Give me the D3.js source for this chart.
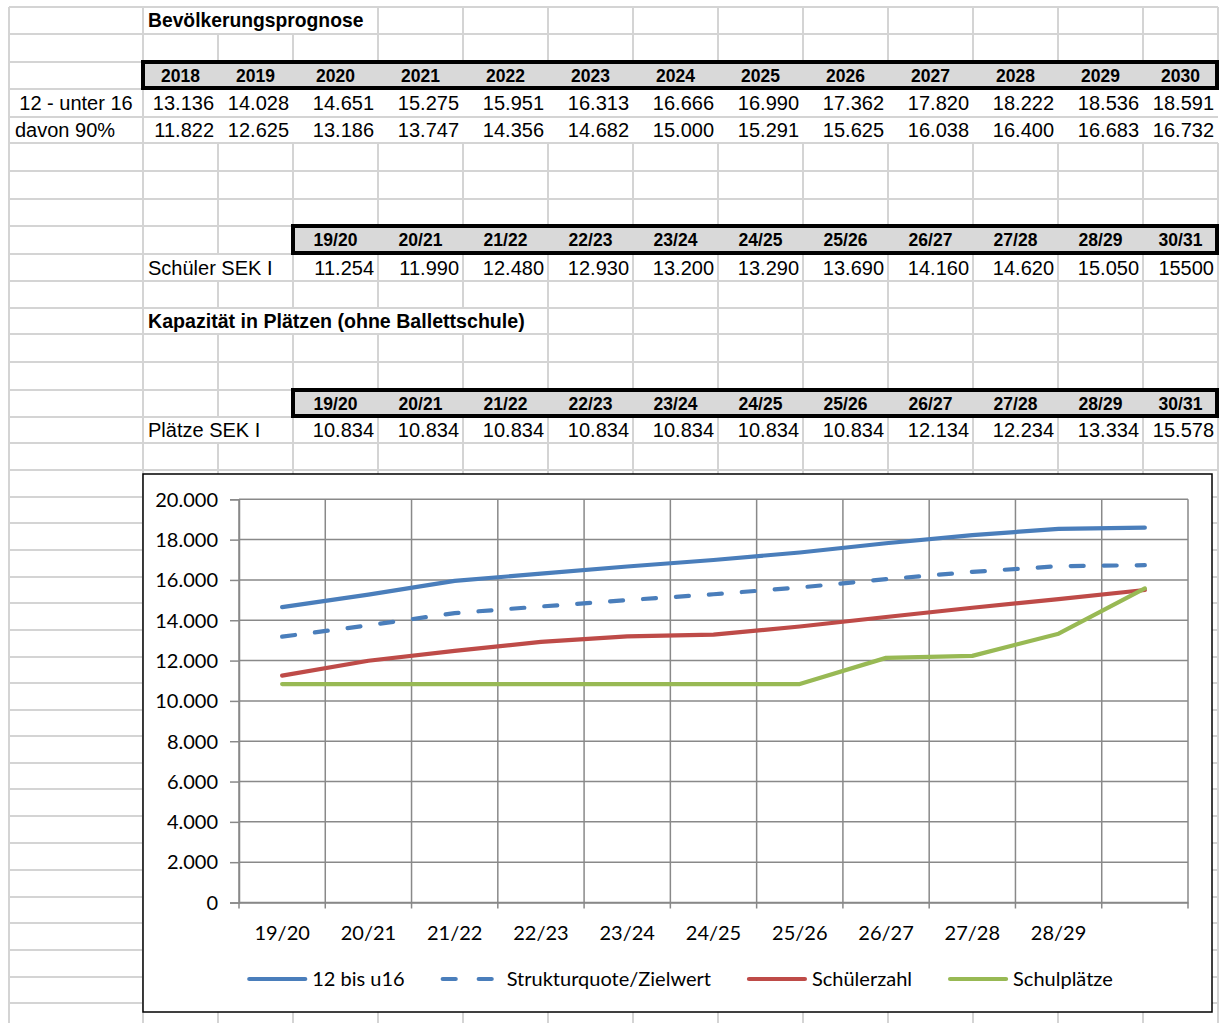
<!DOCTYPE html>
<html><head><meta charset="utf-8">
<script src="https://cdn.jsdelivr.net/npm/d3@7"></script>
<style>body{margin:0;background:#fff}svg{display:block}</style>
</head><body>
<svg id="c" width="1220" height="1023"></svg>
<script>
// ---------- data ----------
const years = ["2018","2019","2020","2021","2022","2023","2024","2025","2026","2027","2028","2029","2030"];
const unter16 = [13136,14028,14651,15275,15951,16313,16666,16990,17362,17820,18222,18536,18591];
const davon90 = [11822,12625,13186,13747,14356,14682,15000,15291,15625,16038,16400,16683,16732];
const schuljahre = ["19/20","20/21","21/22","22/23","23/24","24/25","25/26","26/27","27/28","28/29","30/31"];
const schueler = [11254,11990,12480,12930,13200,13290,13690,14160,14620,15050,15500];
const schuelerPlainCells = [10];           // cell shown without thousands separator
const plaetze = [10834,10834,10834,10834,10834,10834,10834,12134,12234,13334,15578];
const xTickLabels = ["19/20","20/21","21/22","22/23","23/24","24/25","25/26","26/27","27/28","28/29",""];
const yTicks = [0,2000,4000,6000,8000,10000,12000,14000,16000,18000,20000];
const seriesNames = ["12 bis u16","Strukturquote/Zielwert","Schülerzahl","Schulplätze"];

// ---------- layout ----------
const colX = [9,143,218,293,378,463,548,633,718,803,888,973,1058,1143,1218];
const rowY = [7,34,62,89,117,143,171,199,226,254,281,308,334,362,390,417,443,470,497,523,550,577,603,630,657,683,710,736,763,789,816,843,870,897,923,950,977,1003,1030];

const de = d3.formatLocale({decimal:",",thousands:".",grouping:[3],currency:["","€"]});
const fmt = de.format(",d");

const svg = d3.select("#c");
svg.append("rect").attr("width",1220).attr("height",1023).attr("fill","#fff");

// ---------- spreadsheet grid ----------
const hidden = {0:[218,293],3:"data",4:"data",9:[218],11:[218,293,378,463],15:[218]};
const grid = svg.append("g").attr("stroke","#d4d4d4").attr("stroke-width",2);
rowY.slice(0,-1).forEach(y=>{
  grid.append("line").attr("x1",colX[0]).attr("x2",colX[colX.length-1]).attr("y1",y).attr("y2",y);
});
for(let r=0;r<rowY.length-1;r++){
  colX.forEach(x=>{
    const h = hidden[r];
    if(h==="data" && x>143) return;
    if(Array.isArray(h) && h.includes(x)) return;
    grid.append("line").attr("x1",x).attr("x2",x).attr("y1",rowY[r]).attr("y2",Math.min(rowY[r+1],1023));
  });
}

// header boxes
function box(x0,x1,r){
  svg.append("rect").attr("x",x0).attr("y",rowY[r]).attr("width",x1-x0).attr("height",rowY[r+1]-rowY[r]-1)
    .attr("fill","#d9d9d9").attr("stroke","#000").attr("stroke-width",4);
}
box(143,1217,2); box(293,1217,8); box(293,1217,14);

const T = svg.append("g").attr("font-family","'Liberation Sans', Arial, sans-serif").attr("fill","#000");
function txt(s,x,r,anchor,opts={}){
  const y = (rowY[r]+rowY[r+1])/2;
  T.append("text").attr("x",x).attr("y",y).attr("dy","0.36em")
    .attr("text-anchor",anchor).attr("font-size",opts.size||20)
    .attr("font-weight",opts.bold?"bold":null).text(s);
}
const mid = i=>(colX[i]+colX[i+1])/2;
const right = i=>colX[i+1]-4;

txt("Bevölkerungsprognose",148,0,"start",{bold:true,size:19.3});
years.forEach((yv,i)=>txt(yv,mid(i+1),2,"middle",{bold:true,size:17.5}));
txt("12 - unter 16",mid(0),3,"middle");
unter16.forEach((v,i)=>txt(fmt(v),right(i+1),3,"end"));
txt("davon 90%",15,4,"start");
davon90.forEach((v,i)=>txt(fmt(v),right(i+1),4,"end"));

schuljahre.forEach((s,i)=>txt(s,mid(i+3),8,"middle",{bold:true,size:17.5}));
txt("Schüler SEK I",148,9,"start");
schueler.forEach((v,i)=>txt(schuelerPlainCells.includes(i)?String(v):fmt(v),right(i+3),9,"end"));
txt("Kapazität in Plätzen (ohne Ballettschule)",148,11,"start",{bold:true,size:19.6});
schuljahre.forEach((s,i)=>txt(s,mid(i+3),14,"middle",{bold:true,size:17.5}));
txt("Plätze SEK I",148,15,"start");
plaetze.forEach((v,i)=>txt(fmt(v),right(i+3),15,"end"));

// ---------- chart ----------
const chart = svg.append("g");
chart.append("rect").attr("x",143).attr("y",474).attr("width",1069).attr("height",538)
  .attr("fill","#fff").attr("stroke","#000").attr("stroke-width",1.5);

const x = d3.scaleBand().domain(d3.range(schuljahre.length)).range([239,1188]).padding(0);
const y = d3.scaleLinear().domain([0,20000]).range([902.5,499.3]);
const gridC = "#898989";

// horizontal gridlines
chart.append("g").selectAll("line").data(yTicks).join("line")
  .attr("x1",239).attr("x2",1188).attr("y1",d=>y(d)).attr("y2",d=>y(d))
  .attr("stroke",gridC).attr("stroke-width",1.5);
// vertical gridlines at category boundaries
const bounds = d3.range(schuljahre.length+1).map(i=> i<schuljahre.length ? x(i) : x(i-1)+x.bandwidth());
chart.append("g").selectAll("line").data(bounds).join("line")
  .attr("x1",d=>d).attr("x2",d=>d).attr("y1",y(20000)).attr("y2",y(0)+6)
  .attr("stroke",gridC).attr("stroke-width",1.5);

const fontC = "Lato, 'Open Sans', sans-serif";
const fsC = 20;
const yAxis = chart.append("g").attr("transform","translate(239,0)")
  .call(d3.axisLeft(y).tickValues(yTicks).tickSize(9).tickPadding(12).tickFormat(fmt));
yAxis.select(".domain").attr("stroke",gridC).attr("stroke-width",1.5);
yAxis.selectAll(".tick line").attr("stroke",gridC).attr("stroke-width",1.5);
yAxis.selectAll("text").attr("font-family",fontC).attr("font-size",fsC).attr("fill","#000").attr("dy","0.34em");

const xAxis = chart.append("g").attr("transform","translate(0,902.5)")
  .call(d3.axisBottom(x).tickSize(0).tickPadding(0).tickFormat(i=>xTickLabels[i]));
xAxis.select(".domain").attr("stroke",gridC).attr("stroke-width",1.5);
xAxis.selectAll("text").attr("font-family",fontC).attr("font-size",fsC).attr("fill","#000")
  .attr("y",31).attr("dy","0.34em");

const series = [
  {vals: unter16.slice(2), color:"#4a7ebb", dash:null},
  {vals: davon90.slice(2), color:"#4a7ebb", dash:"13,20"},
  {vals: schueler, color:"#be4b48", dash:null},
  {vals: plaetze, color:"#98b954", dash:null}
];
const line = d3.line().x((d,i)=>x(i)+x.bandwidth()/2).y(d=>y(d));
chart.append("g").selectAll("path").data(series).join("path")
  .attr("d",d=>line(d.vals)).attr("fill","none").attr("stroke",d=>d.color)
  .attr("stroke-width",4.2).attr("stroke-linecap","round").attr("stroke-linejoin","round")
  .attr("stroke-dasharray",d=>d.dash);

// legend
const leg = chart.append("g");
const items = leg.selectAll("g").data(series).join("g");
items.append("line").attr("x1",0).attr("x2",56).attr("y1",0).attr("y2",0)
  .attr("stroke",d=>d.color).attr("stroke-width",4.2).attr("stroke-linecap","round")
  .attr("stroke-dasharray",d=>d.dash?"13,23":null);
items.append("text").attr("x",d=>d.dash?64:63).attr("dy","0.34em").attr("font-family",fontC).attr("font-size",fsC)
  .attr("fill","#000").text((d,i)=>seriesNames[i]);
let cx = 0;
items.each(function(){
  const g = d3.select(this);
  g.attr("transform",`translate(${cx},0)`);
  cx += +g.select("text").attr("x") + g.select("text").node().getComputedTextLength() + 38;
});
const total = cx - 38;
leg.attr("transform",`translate(${681 - total/2},979)`);
</script>
</body></html>
